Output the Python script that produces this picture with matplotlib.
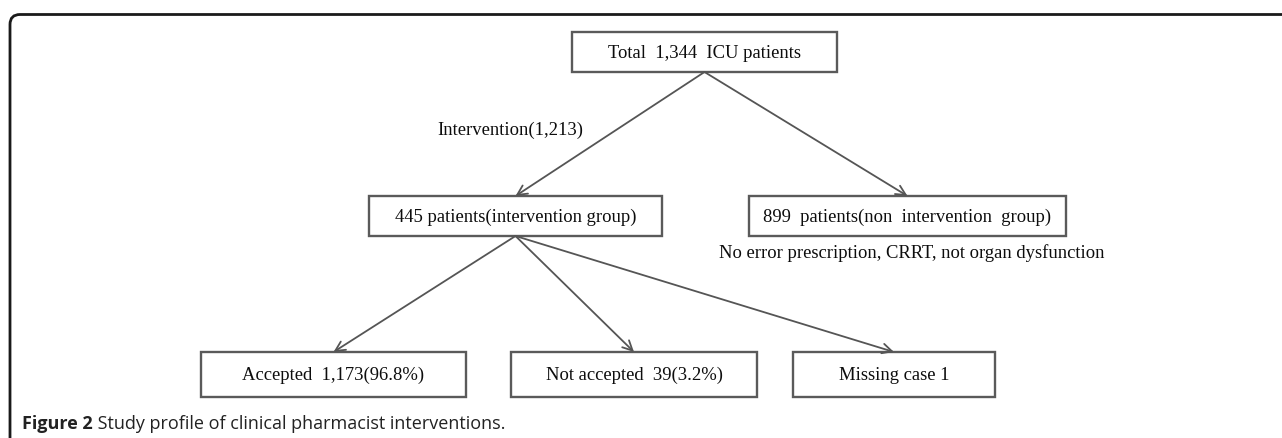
import matplotlib.pyplot as plt
from matplotlib.patches import Rectangle, FancyArrowPatch
from matplotlib.path import Path
from matplotlib.patches import PathPatch

# counts shown in the flow diagram
total_patients = 1344
intervention_count = 1213
intervention_group = 445
non_intervention_group = 899
accepted = 1173
accepted_pct = 96.8
not_accepted = 39
not_accepted_pct = 3.2
missing_cases = 1

box_labels = [
    f"Total  {total_patients:,}  ICU patients",
    f"{intervention_group} patients(intervention group)",
    f"{non_intervention_group}  patients(non  intervention  group)",
    f"Accepted  {accepted:,}({accepted_pct}%)",
    f"Not accepted  {not_accepted}({not_accepted_pct}%)",
    f"Missing case {missing_cases}",
]
edge_label = f"Intervention({intervention_count:,})"
note_label = "No error prescription, CRRT, not organ dysfunction"
caption_bold = "Figure 2"
caption_rest = " Study profile of clinical pharmacist interventions."

# layout in pixel units: (left, top, right, bottom)
boxes = [
    (572, 32, 837, 72),
    (369, 196, 662, 236),
    (749, 196, 1066, 236),
    (201, 352, 466, 397),
    (511, 352, 757, 397),
    (793, 352, 995, 397),
]
links = [(0, 1), (0, 2), (1, 3), (1, 4), (1, 5)]

W, H = 1282, 438
fig = plt.figure(figsize=(W / 100, H / 100), dpi=100)
ax = fig.add_axes([0, 0, 1, 1])
ax.set_xlim(0, W)
ax.set_ylim(H, 0)
ax.axis("off")

serif = "Liberation Serif"
box_color = "#5a5a5a"
txt_size = 13.4

for (l, t, r, b), label in zip(boxes, box_labels):
    ax.add_patch(Rectangle((l, t), r - l, b - t, fill=False,
                           edgecolor=box_color, linewidth=1.7))
    ax.text((l + r) / 2, (t + b) / 2 + 1, label, ha="center", va="center",
            fontsize=txt_size, family=serif, color="#0d0d0d")

for src, dst in links:
    l, t, r, b = boxes[src]
    start = ((l + r) / 2, b)
    l2, t2, r2, b2 = boxes[dst]
    end = ((l2 + r2) / 2, t2)
    ax.add_patch(FancyArrowPatch(start, end, arrowstyle="->,head_length=7,head_width=3.5",
                                 color="#555555", linewidth=1.3,
                                 shrinkA=0, shrinkB=0, mutation_scale=1))

ax.text(510, 130, edge_label, ha="center", va="center",
        fontsize=txt_size, family=serif, color="#0d0d0d")
ax.text(912, 253, note_label, ha="center", va="center",
        fontsize=txt_size, family=serif, color="#0d0d0d")

# caption with bold lead
cap = ax.text(22, 424, caption_bold, ha="left", va="center", fontsize=13,
              family="Open Sans", fontweight="bold", color="#222222")
fig.canvas.draw()
bb = cap.get_window_extent()
x_end = ax.transData.inverted().transform((bb.x1, bb.y0))[0]
ax.text(x_end, 424, caption_rest, ha="left", va="center", fontsize=13,
        family="Open Sans", color="#222222")

# open frame: top and left edges with a rounded corner
rad = 10
verts = [(W + 5, 14.5), (10 + rad, 14.5), (10, 14.5), (10, 14.5 + rad), (10, H + 5)]
codes = [Path.MOVETO, Path.LINETO, Path.CURVE3, Path.CURVE3, Path.LINETO]
ax.add_patch(PathPatch(Path(verts, codes), fill=False, edgecolor="#1a1a1a", linewidth=2.0))

fig.savefig("out.png", dpi=100)
